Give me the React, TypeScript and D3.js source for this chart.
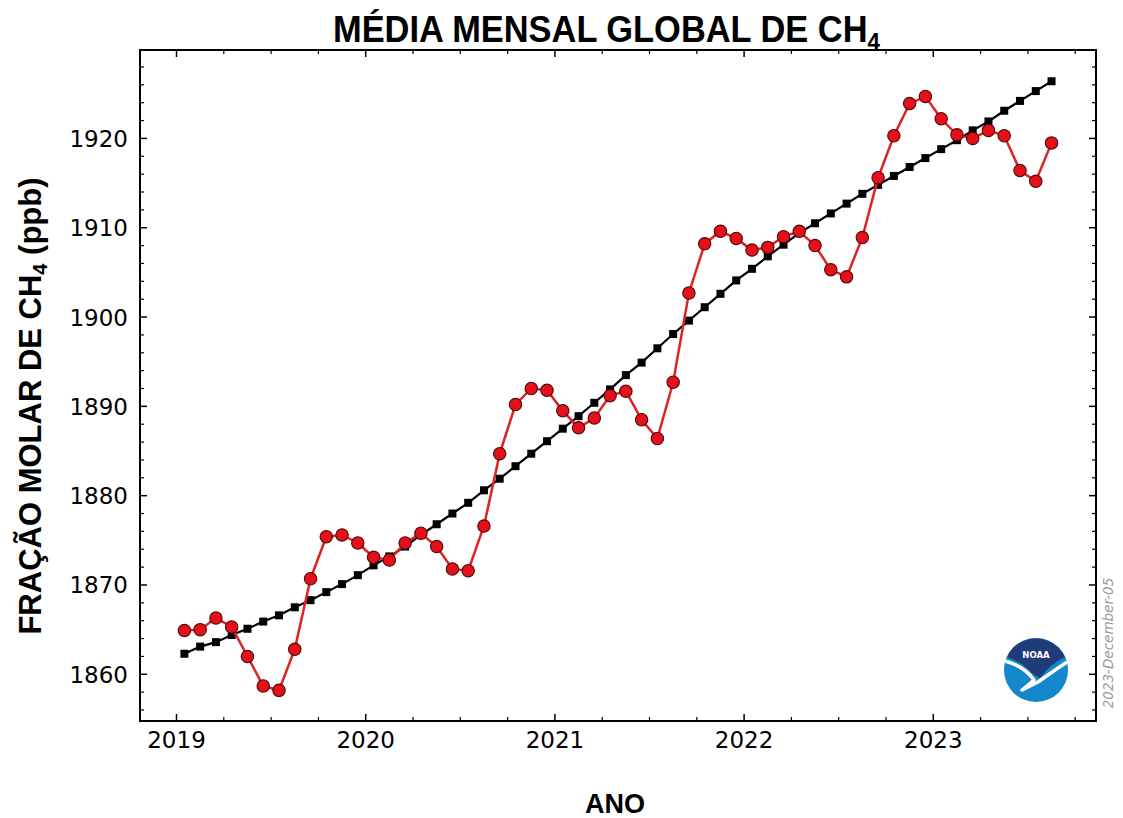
import React from "react";
import * as d3 from "d3";

// ---- data (ppb), monthly from Jan 2019 ----
const startYear = 2019;
const monthlyMean: number[] = [
  1864.9, 1865.0, 1866.3, 1865.3, 1862.0, 1858.7, 1858.2, 1862.8, 1870.7, 1875.4, 1875.6, 1874.7,
  1873.1, 1872.8, 1874.7, 1875.8, 1874.3, 1871.8, 1871.6, 1876.6, 1884.7, 1890.2, 1892.0, 1891.8,
  1889.5, 1887.6, 1888.7, 1891.2, 1891.7, 1888.5, 1886.4, 1892.7, 1902.7, 1908.2, 1909.6, 1908.8,
  1907.5, 1907.8, 1909.0, 1909.6, 1908.0, 1905.3, 1904.5, 1908.9, 1915.6, 1920.3, 1923.9, 1924.7,
  1922.2, 1920.4, 1920.0, 1920.9, 1920.3, 1916.4, 1915.2, 1919.5,
];
const trend: number[] = [
  1862.3, 1863.1, 1863.6, 1864.4, 1865.1, 1865.9, 1866.6, 1867.5, 1868.3, 1869.2, 1870.1, 1871.1,
  1872.2, 1873.2, 1874.3, 1875.6, 1876.8, 1878.0, 1879.2, 1880.6, 1881.9, 1883.3, 1884.7, 1886.1,
  1887.5, 1888.9, 1890.4, 1891.9, 1893.5, 1894.9, 1896.5, 1898.1, 1899.6, 1901.1, 1902.6, 1904.1,
  1905.4, 1906.8, 1908.1, 1909.4, 1910.5, 1911.6, 1912.7, 1913.8, 1914.8, 1915.8, 1916.8, 1917.8,
  1918.8, 1919.8, 1920.9, 1921.9, 1923.1, 1924.2, 1925.3, 1926.4,
];
const xTickYears = [2019, 2020, 2021, 2022, 2023];
const yTickValues = [1860, 1870, 1880, 1890, 1900, 1910, 1920];

const W = 1123;
const H = 818;
const left = 140, right = 1096, top = 50, bottom = 721;

export default function App() {
  const x = d3.scaleLinear().domain([2018.807, 2023.86]).range([left, right]);
  const y = d3.scaleLinear().domain([1854.77, 1929.9]).range([bottom, top]);
  const date = (i: number) => startYear + (i + 0.5) / 12;

  const line = d3
    .line<number>()
    .x((_, i) => x(date(i)))
    .y((d) => y(d));

  const xMinor = d3.range(2019, 2023.9, 0.25).filter((v) => v > 2018.807 && v < 2023.86 && !xTickYears.includes(v));
  const yMinor = d3.range(1856, 1930, 2).filter((v) => v % 10 !== 0);

  const cx = 1036, cy = 670, r = 32;

  return (
    <svg width={W} height={H} style={{ position: "absolute", left: 0, top: 0, background: "#fff" }}>
      {/* title */}
      <text
        x={333}
        y={42}
        textLength={547}
        lengthAdjust="spacingAndGlyphs"
        fontFamily="'Liberation Sans', Arial, sans-serif"
        fontWeight="bold"
        fontSize={37}
        fill="#000"
      >
        MÉDIA MENSAL GLOBAL DE CH<tspan fontSize={24} dy={8}>4</tspan>
      </text>

      {/* lines & markers */}
      <path d={line(trend) || ""} fill="none" stroke="#000" strokeWidth={2.2} />
      {trend.map((v, i) => (
        <rect key={"t" + i} x={x(date(i)) - 4} y={y(v) - 4} width={8} height={8} fill="#000" />
      ))}
      <path d={line(monthlyMean) || ""} fill="none" stroke="#dc2326" strokeWidth={2.5} />
      {monthlyMean.map((v, i) => (
        <circle key={"m" + i} cx={x(date(i))} cy={y(v)} r={6.2} fill="#e5101a" stroke="#4d0808" strokeWidth={1.1} />
      ))}

      {/* frame */}
      <rect x={left} y={top} width={right - left} height={bottom - top} fill="none" stroke="#000" strokeWidth={2} />

      {/* x ticks */}
      {xTickYears.map((v) => (
        <g key={"xt" + v}>
          <line x1={x(v)} x2={x(v)} y1={bottom} y2={bottom - 7} stroke="#000" strokeWidth={1.5} />
          <line x1={x(v)} x2={x(v)} y1={top} y2={top + 7} stroke="#000" strokeWidth={1.5} />
          <text x={x(v)} y={748} textAnchor="middle" fontFamily="'DejaVu Sans', sans-serif" fontSize={23} fill="#000">
            {v}
          </text>
        </g>
      ))}
      {xMinor.map((v) => (
        <g key={"xm" + v}>
          <line x1={x(v)} x2={x(v)} y1={bottom} y2={bottom - 4} stroke="#000" strokeWidth={1.2} />
          <line x1={x(v)} x2={x(v)} y1={top} y2={top + 4} stroke="#000" strokeWidth={1.2} />
        </g>
      ))}

      {/* y ticks */}
      {yTickValues.map((v) => (
        <g key={"yt" + v}>
          <line x1={left} x2={left + 7} y1={y(v)} y2={y(v)} stroke="#000" strokeWidth={1.5} />
          <line x1={right} x2={right - 7} y1={y(v)} y2={y(v)} stroke="#000" strokeWidth={1.5} />
          <text x={128} y={y(v) + 8.5} textAnchor="end" fontFamily="'DejaVu Sans', sans-serif" fontSize={23} fill="#000">
            {v}
          </text>
        </g>
      ))}
      {yMinor.map((v) => (
        <g key={"ym" + v}>
          <line x1={left} x2={left + 4} y1={y(v)} y2={y(v)} stroke="#000" strokeWidth={1.2} />
          <line x1={right} x2={right - 4} y1={y(v)} y2={y(v)} stroke="#000" strokeWidth={1.2} />
        </g>
      ))}

      {/* axis titles */}
      <text
        transform="translate(41,406) rotate(-90)"
        textAnchor="middle"
        fontFamily="'Liberation Sans', Arial, sans-serif"
        fontWeight="bold"
        fontSize={31}
        fill="#000"
      >
        FRAÇÃO MOLAR DE CH<tspan fontSize={20} dy={6}>4</tspan>
        <tspan dy={-6}> (ppb)</tspan>
      </text>
      <text x={615} y={813} textAnchor="middle" fontFamily="'Liberation Sans', Arial, sans-serif" fontWeight="bold" fontSize={27} fill="#000">
        ANO
      </text>

      {/* date stamp */}
      <text
        transform="translate(1113,643) rotate(-90)"
        textAnchor="middle"
        fontFamily="'DejaVu Sans', sans-serif"
        fontStyle="italic"
        fontSize={13.5}
        fill="#9a9a9a"
      >
        2023-December-05
      </text>

      {/* NOAA logo (approximation) */}
      <g>
        <circle cx={cx} cy={cy} r={r} fill="#1486cc" />
        <path
          d={`M ${cx - 29} ${cy - 13} A ${r} ${r} 0 0 1 ${cx + 29} ${cy - 13} Q ${cx + 14} ${cy - 6} ${cx + 4} ${cy + 8} L ${cx - 2} ${cy + 5} Q ${cx - 14} ${cy - 8} ${cx - 29} ${cy - 13} Z`}
          fill="#213a78"
        />
        <path
          d={`M ${cx - 31} ${cy - 9} Q ${cx - 12} ${cy - 4} ${cx - 2} ${cy + 10} L ${cx - 14} ${cy + 20} L ${cx + 2} ${cy + 12} Q ${cx + 16} ${cy + 2} ${cx + 31} ${cy - 8}`}
          fill="none"
          stroke="#fff"
          strokeWidth={3.5}
          strokeLinejoin="round"
        />
        <text x={cx} y={cy - 12} textAnchor="middle" fontFamily="'DejaVu Sans', sans-serif" fontWeight="bold" fontSize={8.5} fill="#fff">
          NOAA
        </text>
      </g>
    </svg>
  );
}
